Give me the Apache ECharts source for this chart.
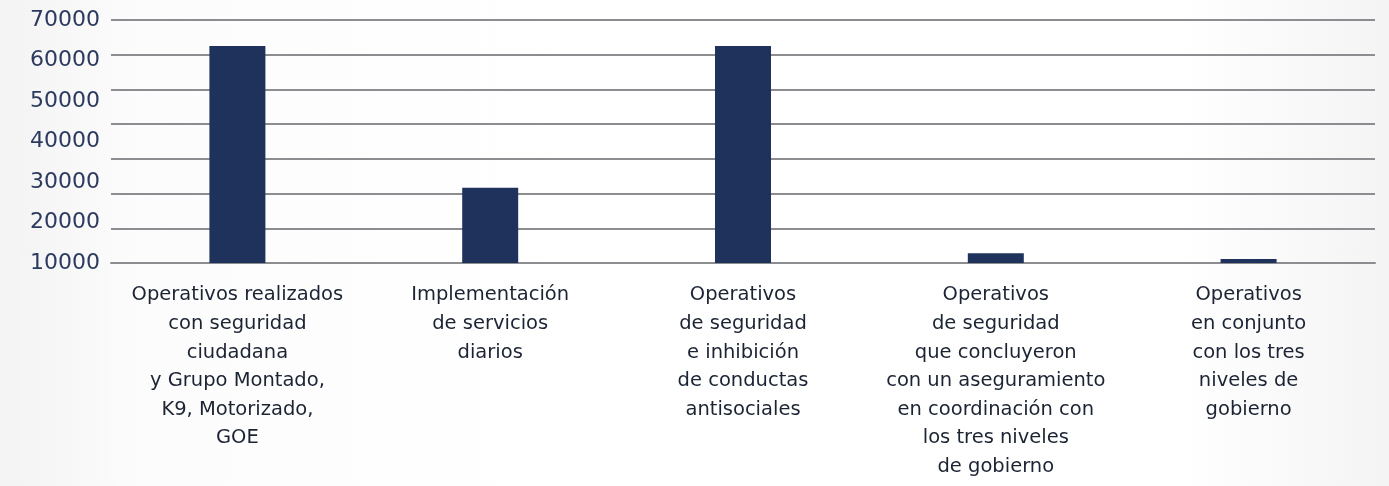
<!DOCTYPE html>
<html>
<head>
<meta charset="utf-8">
<script src="https://cdn.jsdelivr.net/npm/echarts@6/dist/echarts.min.js"></script>
<style>
  html, body { margin: 0; padding: 0; }
  #chart {
    width: 1389px; height: 486px;
    background: linear-gradient(90deg, #f3f3f3 0%, #fcfcfc 10%, #ffffff 40%, #ffffff 85%, #f4f4f4 100%);
  }
</style>
</head>
<body>
<div id="chart"></div>
<script>
// categorias (eje x)
var categorias = [
  'Operativos realizados\ncon seguridad\nciudadana\ny Grupo Montado,\nK9, Motorizado,\nGOE',
  'Implementación\nde servicios\ndiarios',
  'Operativos\nde seguridad\ne inhibición\nde conductas\nantisociales',
  'Operativos\nde seguridad\nque concluyeron\ncon un aseguramiento\nen coordinación con\nlos tres niveles\nde gobierno',
  'Operativos\nen conjunto\ncon los tres\nniveles de\ngobierno'
];
// valores de las barras
var operativos = [62500, 21700, 62500, 2800, 1150];
// etiquetas del eje y
var etiquetasY = [10000, 20000, 30000, 40000, 50000, 60000, 70000];

var chart = echarts.init(document.getElementById('chart'));

chart.setOption({
  animation: false,
  grid: { left: 111, right: 14, top: 20, bottom: 223 },
  xAxis: {
    type: 'category',
    data: categorias,
    axisLine: { show: true, lineStyle: { color: '#8c8d91', width: 2 } },
    axisTick: { show: false },
    axisLabel: {
      interval: 0,
      margin: 18,
      color: '#1c2333',
      fontFamily: 'DejaVu Sans',
      fontSize: 19.5,
      lineHeight: 28.6,
      align: 'center'
    }
  },
  yAxis: [
    {
      // escala de las barras y lineas de la cuadricula
      type: 'value',
      min: 0,
      max: 70000,
      interval: 10000,
      axisLine: { show: false },
      axisTick: { show: false },
      axisLabel: { show: false },
      splitLine: { lineStyle: { color: '#8c8d91', width: 2 } }
    },
    {
      // etiquetas del eje y
      type: 'value',
      position: 'left',
      min: etiquetasY[0],
      max: etiquetasY[etiquetasY.length - 1],
      interval: 10000,
      axisLine: { show: false },
      axisTick: { show: false },
      splitLine: { show: false },
      axisLabel: {
        margin: 11,
        color: '#2b3a5e',
        fontFamily: 'DejaVu Sans',
        fontSize: 22,
        formatter: function (v) { return String(v); }
      }
    }
  ],
  series: [{
    type: 'bar',
    yAxisIndex: 0,
    data: operativos,
    barWidth: 56,
    itemStyle: { color: '#1e325b' }
  }]
});
</script>
</body>
</html>
